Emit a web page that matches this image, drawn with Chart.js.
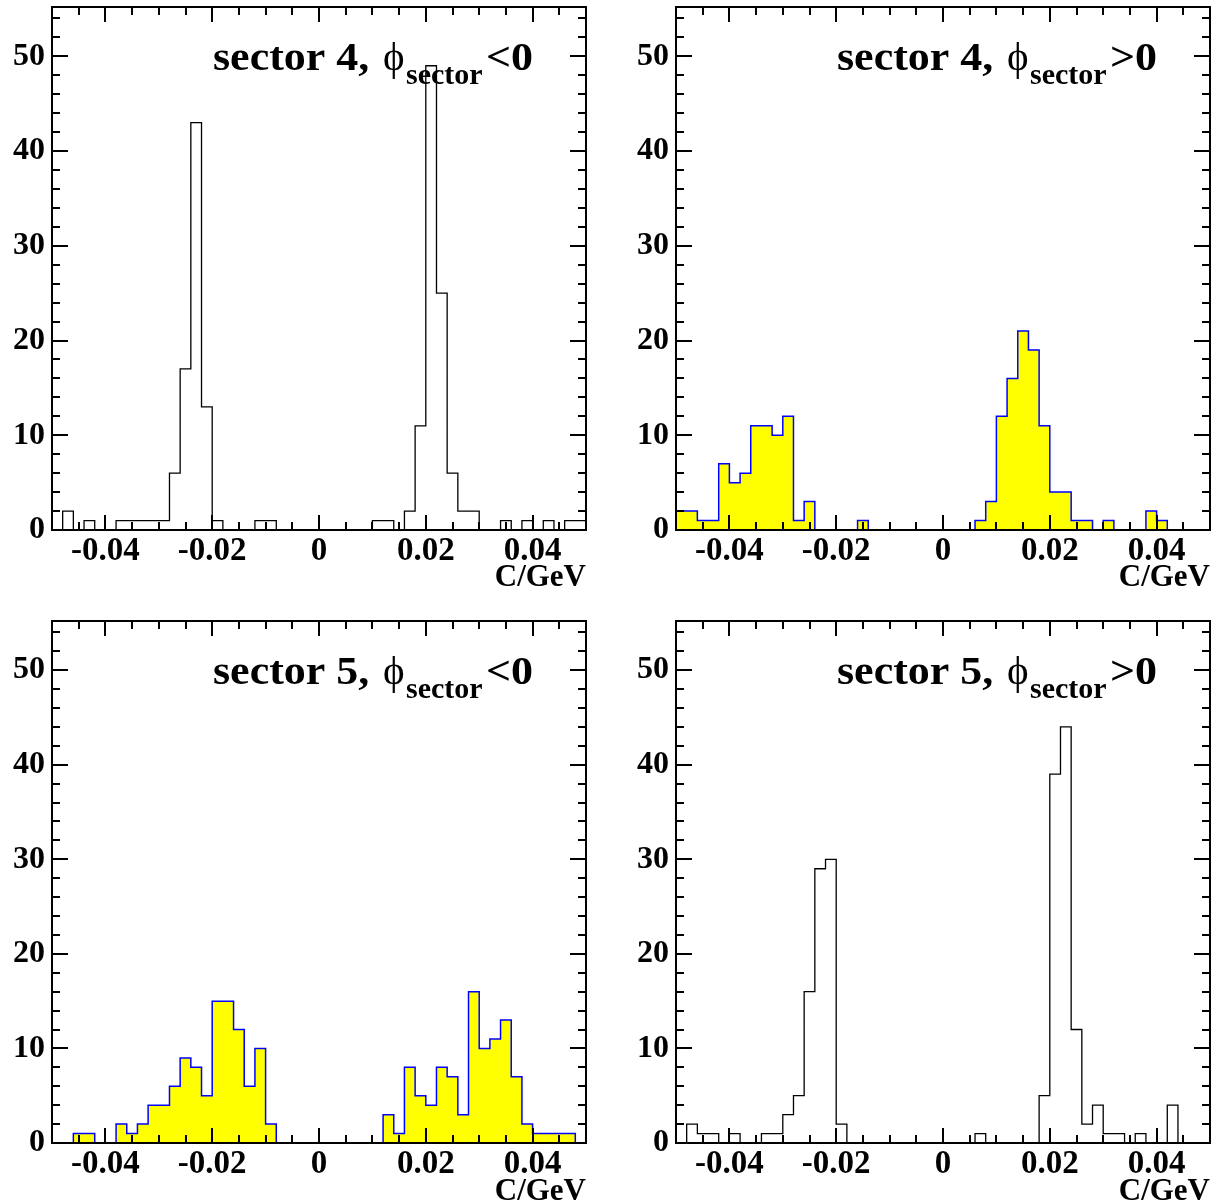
<!DOCTYPE html>
<html>
<head>
<meta charset="utf-8">
<script src="https://cdn.jsdelivr.net/npm/chart.js@4.4.0/dist/chart.umd.min.js"></script>
<style>
html, body { margin: 0; padding: 0; background: #ffffff; overflow: hidden; }
#wrap { position: relative; width: 1217px; height: 1204px; overflow: hidden; background: #ffffff; }
canvas { position: absolute; }
</style>
</head>
<body>
<div id="wrap">
  <canvas id="c0"></canvas>
  <canvas id="c1"></canvas>
  <canvas id="c2"></canvas>
  <canvas id="c3"></canvas>
</div>
<script>
// ---------------- data ----------------
const binLow = -0.05;
const binHigh = 0.05;
const binCount = 50;
const xTickValues = [-0.04, -0.02, 0, 0.02, 0.04];
const xTickLabels = ['-0.04', '-0.02', '0', '0.02', '0.04'];
const yTickValues = [0, 10, 20, 30, 40, 50];
const yTickLabels = ['0', '10', '20', '30', '40', '50'];
const xAxisTitle = 'C/GeV';

// counts per bin (50 bins of 0.002 from -0.05 to 0.05)
const sector4Neg = [0,2,0,1,0,0,1,1,1,1, 1,6,17,43,13,1,0,0,0,1, 1,0,0,0,0,0,0,0,0,0,
                    1,1,0,2,11,49,25,6,2,2, 0,0,1,0,1,0,1,0,1,1];
const sector4Pos = [2,2,1,1,7,5,6,11,11,10, 12,1,3,0,0,0,0,1,0,0, 0,0,0,0,0,0,0,0,1,3,
                    12,16,21,19,11,4,4,1,1,0, 1,0,0,0,2,1,0,0,0,0];
const sector5Neg = [0,0,1,1,0,0,2,1,2,4, 4,6,9,8,5,15,15,12,6,10, 2,0,0,0,0,0,0,0,0,0,
                    0,3,1,8,5,4,8,7,3,16, 10,11,13,7,2,1,1,1,1,0];
const sector5Pos = [0,2,1,1,0,1,0,0,1,1, 3,5,16,29,30,2,0,0,0,0, 0,0,0,0,0,0,0,0,1,0,
                    0,0,0,0,5,39,44,12,2,4, 1,1,0,1,0,0,4,0,0,0];

const panelTitles = ['sector 4,', 'sector 4,', 'sector 5,', 'sector 5,'];
const panelRelations = ['<0', '>0', '<0', '>0'];
const panelSeries = [sector4Neg, sector4Pos, sector5Neg, sector5Pos];
const panelFilled = [false, true, true, false];

// ---------------- layout (frame rectangles in page pixels) ----------------
const frames = [
  { L: 52,  T: 7,   R: 586,  B: 530 },
  { L: 676, T: 7,   R: 1210, B: 530 },
  { L: 52,  T: 621, R: 586,  B: 1143 },
  { L: 676, T: 621, R: 1210, B: 1143 }
];
const CANVAS_W = 608, CANVAS_H = 602, AXIS_W = 52, PAD_TOP = 7;
const FONT = '"Liberation Serif", "Times New Roman", Times, serif';

function histPoints(vals) {
  const w = (binHigh - binLow) / binCount;
  const pts = vals.map((v, i) => ({ x: binLow + i * w, y: v }));
  pts.push({ x: binHigh, y: vals[vals.length - 1] });
  pts.push({ x: binHigh, y: 0 });
  return pts;
}

const frameTicks = {
  id: 'frameTicks',
  afterDatasetsDraw(chart) {
    const { ctx, chartArea: a, scales: { x, y } } = chart;
    ctx.save();
    ctx.strokeStyle = '#000';
    ctx.lineWidth = 2;
    ctx.beginPath();
    for (let k = -10; k <= 10; k++) {
      const v = k * 0.005;
      const major = (k % 4 === 0);
      const len = major ? 15 : 8;
      const px = Math.round(x.getPixelForValue(v));
      if (px <= a.left + 1 || px >= a.right - 1) continue;
      ctx.moveTo(px, a.bottom); ctx.lineTo(px, a.bottom - len);
      ctx.moveTo(px, a.top); ctx.lineTo(px, a.top + len);
    }
    for (let v = 2; v <= 54; v += 2) {
      const major = (v % 10 === 0);
      const len = major ? 16 : 8;
      const py = Math.round(y.getPixelForValue(v));
      ctx.moveTo(a.left, py); ctx.lineTo(a.left + len, py);
      ctx.moveTo(a.right, py); ctx.lineTo(a.right - len, py);
    }
    ctx.stroke();
    ctx.strokeRect(a.left, a.top, a.right - a.left, a.bottom - a.top);
    ctx.restore();
  }
};

function drawStretched(ctx, text, x, y, font, sx) {
  ctx.save();
  ctx.font = font;
  ctx.translate(x, y);
  ctx.scale(sx, 1);
  ctx.fillText(text, 0, 0);
  ctx.restore();
}

const panelTitle = {
  id: 'panelTitle',
  afterDraw(chart, args, opts) {
    const { ctx, chartArea: a } = chart;
    const base = a.top + 63;
    ctx.save();
    ctx.fillStyle = '#000';
    ctx.textAlign = 'left';
    ctx.textBaseline = 'alphabetic';
    drawStretched(ctx, opts.main, a.left + 161, base, 'bold 40px ' + FONT, 1.1);
    drawStretched(ctx, '\u03D5', a.left + 331, base, '41px ' + FONT, 1.0);
    drawStretched(ctx, 'sector', a.left + 354, base + 14, 'bold 30px ' + FONT, 1.0);
    drawStretched(ctx, opts.rel, a.left + 434, base, 'bold 40px ' + FONT, 1.1);
    ctx.restore();
  }
};

frames.forEach((f, i) => {
  const cv = document.getElementById('c' + i);
  const left = f.L - AXIS_W, top = f.T - PAD_TOP;
  cv.width = CANVAS_W; cv.height = CANVAS_H;
  cv.style.left = left + 'px'; cv.style.top = top + 'px';
  cv.style.width = CANVAS_W + 'px'; cv.style.height = CANVAS_H + 'px';
  const areaH = f.B - f.T;
  const xAxisH = CANVAS_H - PAD_TOP - areaH;
  const rightPad = CANVAS_W - (f.R - left);
  const filled = panelFilled[i];

  new Chart(cv, {
    type: 'line',
    data: {
      datasets: [{
        data: histPoints(panelSeries[i]),
        stepped: 'before',
        borderColor: filled ? '#0000ff' : '#000000',
        borderWidth: filled ? 1.5 : 1.3,
        backgroundColor: filled ? '#ffff00' : 'rgba(0,0,0,0)',
        fill: filled ? 'origin' : false,
        pointRadius: 0,
        tension: 0
      }]
    },
    options: {
      responsive: false,
      animation: false,
      devicePixelRatio: 1,
      layout: { padding: { left: 0, top: PAD_TOP, right: rightPad, bottom: 0 } },
      plugins: {
        legend: { display: false },
        tooltip: { enabled: false },
        panelTitle: { main: panelTitles[i], rel: panelRelations[i] }
      },
      scales: {
        x: {
          type: 'linear',
          min: binLow, max: binHigh,
          grid: { display: false, drawTicks: false },
          border: { display: false },
          afterBuildTicks: (s) => { s.ticks = xTickValues.map(v => ({ value: v })); },
          afterFit: (s) => { s.height = xAxisH; s.paddingLeft = 0; s.paddingRight = 0; },
          ticks: {
            autoSkip: false, maxRotation: 0, minRotation: 0, padding: 5,
            color: '#000',
            font: { family: FONT, size: 33, weight: 'bold', lineHeight: 1 },
            callback: (v, idx) => xTickLabels[idx]
          },
          title: {
            display: true, text: xAxisTitle, align: 'end', color: '#000',
            font: { family: FONT, size: 31, weight: 'bold', lineHeight: 1 },
            padding: { top: 0, bottom: 9 }
          }
        },
        y: {
          type: 'linear',
          min: 0, max: 55.2,
          grid: { display: false, drawTicks: false },
          border: { display: false },
          afterBuildTicks: (s) => { s.ticks = yTickValues.map(v => ({ value: v })); },
          afterFit: (s) => { s.width = AXIS_W; s.paddingTop = 0; s.paddingBottom = 0; },
          ticks: {
            autoSkip: false, padding: 7, color: '#000',
            font: { family: FONT, size: 32, weight: 'bold', lineHeight: 1 },
            callback: (v, idx) => yTickLabels[idx]
          }
        }
      }
    },
    plugins: [frameTicks, panelTitle]
  });
});
</script>
</body>
</html>
